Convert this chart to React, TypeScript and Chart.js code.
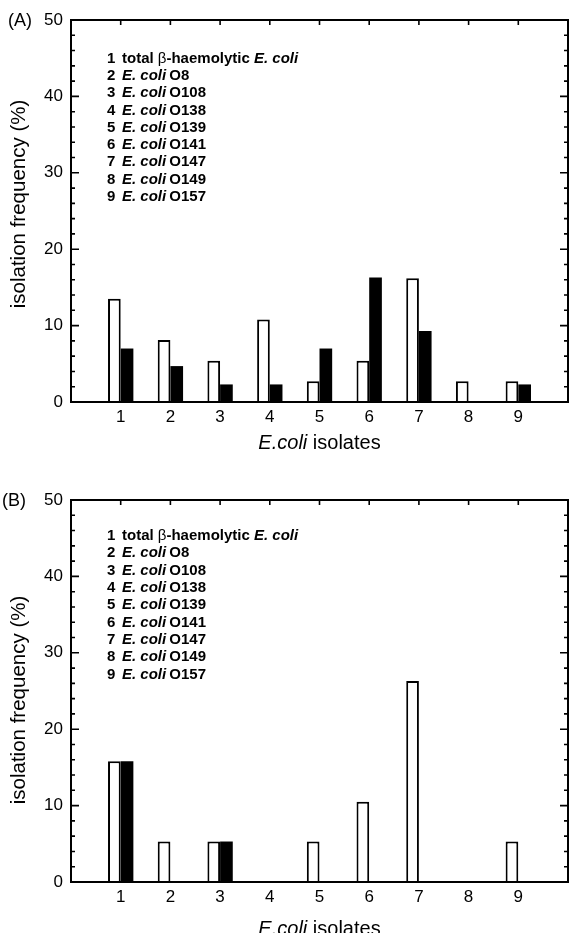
import React, { useEffect, useRef } from 'react';
import { Chart, registerables } from 'chart.js';

Chart.register(...registerables);

// ---------- data ----------
const categories = ['0', '1', '2', '3', '4', '5', '6', '7', '8', '9', '10'];
const tickLabels = ['', '1', '2', '3', '4', '5', '6', '7', '8', '9', ''];
const topTickIndices = [1, 2, 3, 4, 5, 6, 7, 8, 9];

const panelAWhite = [null, 13.5, 8.1, 5.4, 10.8, 2.7, 5.4, 16.2, 2.7, 2.7, null];
const panelABlack = [null, 7.0, 4.7, 2.3, 2.3, 7.0, 16.3, 9.3, null, 2.3, null];
const panelBWhite = [null, 15.8, 5.3, 5.3, null, 5.3, 10.5, 26.3, null, 5.3, null];
const panelBBlack = [null, 15.8, null, 5.3, null, null, null, null, null, null, null];

const yMin = 0;
const yMax = 50;
const yMajorStep = 10;
const yMinorStep = 2;

const legendNumbers = ['1', '2', '3', '4', '5', '6', '7', '8', '9'];
const serotypes = ['O8', 'O108', 'O138', 'O139', 'O141', 'O147', 'O149', 'O157'];
const firstLegendParts = ['total ', 'β', '-haemolytic ', 'E. coli'];
const speciesName = 'E. coli';

const yTitle = 'isolation frequency (%)';
const xTitleItalic = 'E.coli';
const xTitleRest = ' isolates';

const FONT = '"Liberation Sans", Arial, Helvetica, sans-serif';

type PanelCfg = {
  label: string;
  labelX: number;
  white: (number | null)[];
  black: (number | null)[];
  height: number;
  padTop: number;
  xScaleHeight: number;
  yTitleShift: number;
  xTitleOffset: number;
  legendTop: number;
};

function makePlugin(cfg: PanelCfg) {
  return {
    id: 'decor' + cfg.label,
    afterDraw(chart: any) {
      const { ctx, chartArea } = chart;
      const { left, right, top, bottom } = chartArea;
      const xs = chart.scales.x;
      const ys = chart.scales.y;
      ctx.save();
      ctx.strokeStyle = '#000';
      ctx.fillStyle = '#000';
      // frame
      ctx.lineWidth = 2;
      ctx.strokeRect(left, top, right - left, bottom - top);
      // y ticks (inward, both sides)
      ctx.lineWidth = 1.6;
      for (let v = yMin; v <= yMax; v += yMinorStep) {
        const yp = ys.getPixelForValue(v);
        const len = v % yMajorStep === 0 ? 8 : 4;
        ctx.beginPath();
        ctx.moveTo(left, yp);
        ctx.lineTo(left + len, yp);
        ctx.moveTo(right, yp);
        ctx.lineTo(right - len, yp);
        ctx.stroke();
      }
      // top ticks
      topTickIndices.forEach((i) => {
        const xp = xs.getPixelForValue(i);
        ctx.beginPath();
        ctx.moveTo(xp, top);
        ctx.lineTo(xp, top + 5);
        ctx.stroke();
      });

      // panel label
      ctx.font = `18px ${FONT}`;
      ctx.textBaseline = 'middle';
      ctx.textAlign = 'left';
      ctx.fillText(cfg.label, cfg.labelX, top + 1);

      // y title
      ctx.save();
      ctx.font = `20.5px ${FONT}`;
      ctx.textAlign = 'center';
      ctx.textBaseline = 'middle';
      ctx.translate(19, (top + bottom) / 2 + cfg.yTitleShift);
      ctx.rotate(-Math.PI / 2);
      ctx.fillText(yTitle, 0, 0);
      ctx.restore();

      // x title (mixed italic)
      ctx.font = `italic 20px ${FONT}`;
      const w1 = ctx.measureText(xTitleItalic).width;
      ctx.font = `20px ${FONT}`;
      const w2 = ctx.measureText(xTitleRest).width;
      const cx = (left + right) / 2;
      const ty = bottom + cfg.xTitleOffset;
      let tx = cx - (w1 + w2) / 2;
      ctx.textAlign = 'left';
      ctx.textBaseline = 'middle';
      ctx.font = `italic 20px ${FONT}`;
      ctx.fillText(xTitleItalic, tx, ty);
      tx += w1;
      ctx.font = `20px ${FONT}`;
      ctx.fillText(xTitleRest, tx, ty);

      // legend text block
      const numX = left + 36;
      const textX = left + 51;
      const lineH = 17.3;
      const bold = `bold 15px ${FONT}`;
      const boldItalic = `italic bold 15px ${FONT}`;
      const normal = `15px ${FONT}`;
      legendNumbers.forEach((n, i) => {
        const y = top + cfg.legendTop + i * lineH;
        ctx.font = bold;
        ctx.fillText(n, numX, y);
        let x = textX;
        if (i === 0) {
          const fonts = [bold, normal, bold, boldItalic];
          firstLegendParts.forEach((p, k) => {
            ctx.font = fonts[k];
            ctx.fillText(p, x, y);
            x += ctx.measureText(p).width;
          });
        } else {
          ctx.font = boldItalic;
          ctx.fillText(speciesName, x, y);
          x += ctx.measureText(speciesName + ' ').width - 1;
          ctx.font = bold;
          ctx.fillText(serotypes[i - 1], x, y);
        }
      });
      ctx.restore();
    },
  };
}

function Panel({ cfg }: { cfg: PanelCfg }) {
  const ref = useRef<HTMLCanvasElement | null>(null);
  useEffect(() => {
    if (!ref.current) return;
    const chart = new Chart(ref.current, {
      type: 'bar',
      data: {
        labels: categories,
        datasets: [
          {
            label: 'white',
            data: cfg.white,
            backgroundColor: '#ffffff',
            borderColor: '#000000',
            borderWidth: 2,
            categoryPercentage: 0.51,
            barPercentage: 1.0,
          },
          {
            label: 'black',
            data: cfg.black,
            backgroundColor: '#000000',
            borderColor: '#000000',
            borderWidth: 0,
            categoryPercentage: 0.51,
            barPercentage: 1.0,
          },
        ],
      } as any,
      options: {
        animation: false,
        responsive: false,
        maintainAspectRatio: false,
        events: [],
        layout: { padding: { top: cfg.padTop, right: 1, left: 0, bottom: 0 } },
        plugins: {
          legend: { display: false },
          tooltip: { enabled: false },
          title: { display: false },
        },
        scales: {
          x: {
            type: 'category',
            offset: false,
            grid: { display: false, drawTicks: false },
            border: { display: false },
            afterFit: (s: any) => {
              s.height = cfg.xScaleHeight;
              s.paddingLeft = 0;
              s.paddingRight = 0;
            },
            ticks: {
              autoSkip: false,
              maxRotation: 0,
              minRotation: 0,
              padding: 5,
              color: '#000',
              font: { family: FONT, size: 17 },
              callback: (_v: any, i: number) => tickLabels[i],
            },
          },
          y: {
            min: yMin,
            max: yMax,
            grid: { display: false, drawTicks: false },
            border: { display: false },
            afterFit: (s: any) => {
              s.width = 71;
              s.paddingTop = 0;
              s.paddingBottom = 0;
            },
            ticks: {
              stepSize: yMajorStep,
              padding: 8,
              color: '#000',
              font: { family: FONT, size: 17 },
            },
          },
        },
      } as any,
      plugins: [makePlugin(cfg)],
    });
    return () => chart.destroy();
  }, [cfg]);
  return (
    <canvas
      ref={ref}
      width={569}
      height={cfg.height}
      style={{ display: 'block', width: 569, height: cfg.height }}
    />
  );
}

const panelA: PanelCfg = {
  label: '(A)',
  labelX: 8,
  white: panelAWhite,
  black: panelABlack,
  height: 466,
  padTop: 20,
  xScaleHeight: 64,
  yTitleShift: -7,
  xTitleOffset: 41,
  legendTop: 38.5,
};

const panelB: PanelCfg = {
  label: '(B)',
  labelX: 2,
  white: panelBWhite,
  black: panelBBlack,
  height: 467,
  padTop: 34,
  xScaleHeight: 51,
  yTitleShift: 9,
  xTitleOffset: 47,
  legendTop: 36,
};

export default function App() {
  return (
    <div
      style={{
        position: 'absolute',
        left: 0,
        top: 0,
        width: 569,
        height: 933,
        background: '#fff',
        overflow: 'hidden',
      }}
    >
      <Panel cfg={panelA} />
      <Panel cfg={panelB} />
    </div>
  );
}
